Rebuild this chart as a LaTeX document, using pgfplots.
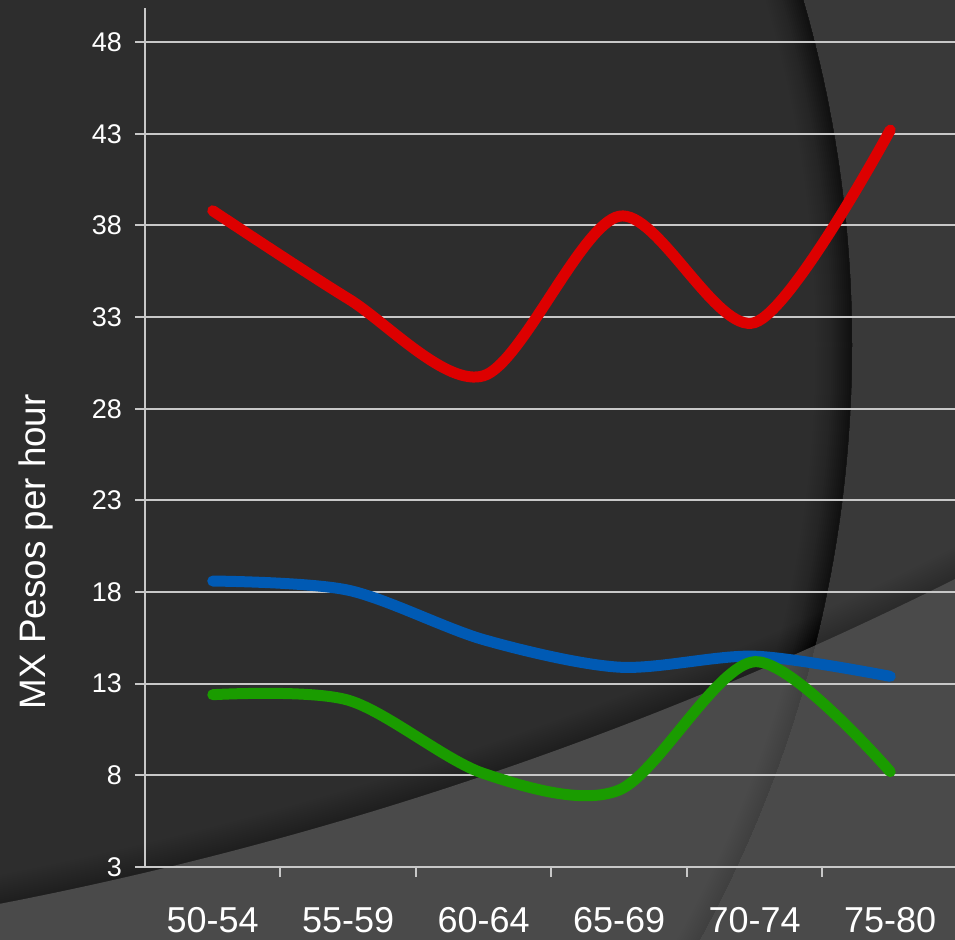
\documentclass[border=0pt]{standalone}
\usepackage{fontspec}
\setmainfont{Liberation Sans}
\usepackage{pgfplots}
\pgfplotsset{compat=1.18}
\definecolor{bgdark}{RGB}{45,45,45}
\definecolor{bgright}{RGB}{57,57,57}
\definecolor{bglow}{RGB}{74,74,74}
\definecolor{gridc}{RGB}{200,200,200}
\definecolor{sred}{RGB}{221,0,0}
\definecolor{sblue}{RGB}{0,90,180}
\definecolor{sgreen}{RGB}{26,156,0}
\begin{document}
\begin{tikzpicture}
\useasboundingbox (0,0) rectangle (477.5pt,469.5pt);
\clip (0,0) rectangle (477.5pt,469.5pt);
\fill[bgdark] (0,0) rectangle (477.5pt,469.5pt);
% right lighter region outside the large arc
\fill[bgright, even odd rule] (-10pt,-10pt) rectangle (490pt,480pt) (-192.75pt,297.1pt) circle[radius=618.75pt];
% soft shadow inside the large arc
\begin{scope}
\clip (-192.75pt,297.1pt) circle[radius=618.75pt];
\foreach \w in {2,4,...,36}{\draw[black,opacity=0.014,line width=\w pt] (-192.75pt,297.1pt) circle[radius=618.75pt];}
\end{scope}
% soft shadow above the lower boundary
\begin{scope}
\clip (-357pt,1850pt) circle[radius=1866.5pt];
\foreach \w in {2,4,...,28}{\draw[black,opacity=0.017,line width=\w pt] (-357pt,1850pt) circle[radius=1866.5pt];}
\end{scope}
% lower lighter region
\fill[bglow, even odd rule] (-10pt,-10pt) rectangle (490pt,480pt) (-357pt,1850pt) circle[radius=1866.5pt];
% faint trace of the large arc in the lower region
\begin{scope}
\clip (-192.75pt,297.1pt) circle[radius=618.75pt];
\foreach \w in {2,4,...,20}{\draw[black,opacity=0.008,line width=\w pt] (-192.75pt,297.1pt) circle[radius=618.75pt];}
\end{scope}
\begin{axis}[
  at={(72.5pt,36pt)}, anchor=south west, scale only axis,
  width=406.5pt, height=429.5pt,
  xmin=-0.5, xmax=5.5, ymin=3, ymax=49.86,
  axis lines*=left,
  axis line style={gridc, line width=1pt},
  ytick={3,8,...,48},
  ymajorgrids, grid style={gridc, line width=1pt},
  xtick={0.5,1.5,2.5,3.5,4.5}, xticklabels={},
  extra x ticks={0,1,2,3,4,5},
  extra x tick labels={50-54,55-59,60-64,65-69,70-74,75-80},
  extra x tick style={major tick length=0pt, xticklabel style={font=\fontsize{18}{20}\selectfont, yshift=-16.5pt}},
  tick align=outside, major tick length=5pt,
  tick style={gridc, line width=1pt},
  yticklabel style={font=\fontsize{13.5}{15}\selectfont, xshift=-3pt},
  ticklabel style={color=white},
  /pgf/number format/assume math mode=true,
  ylabel={MX Pesos per hour},
  ylabel style={at={(axis description cs:-0.134,0.367)}, anchor=center, rotate=0, font=\fontsize{18.4}{20}\selectfont, color=white},
  clip=false,
]
\addplot[sred, line width=5.5pt, smooth, line cap=round] coordinates {(0,38.8) (1,34.0) (2,29.8) (3,38.5) (4,32.7) (5,43.2)};
\addplot[sblue, line width=5.5pt, smooth, line cap=round] coordinates {(0,18.6) (1,18.1) (2,15.4) (3,13.9) (4,14.5) (5,13.4)};
\addplot[sgreen, line width=5.5pt, smooth, line cap=round] coordinates {(0,12.4) (1,12.1) (2,8.1) (3,7.2) (4,14.2) (5,8.2)};
\end{axis}
\end{tikzpicture}
\end{document}
